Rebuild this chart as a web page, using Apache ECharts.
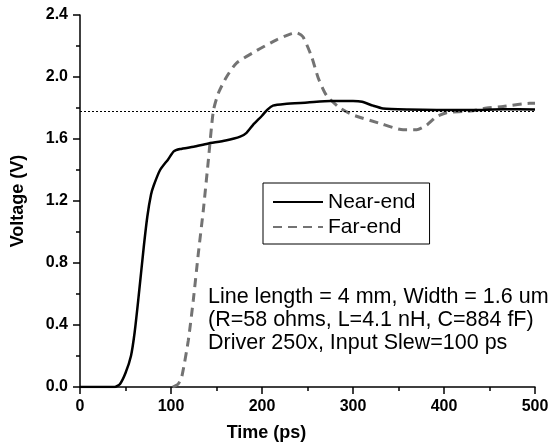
<!DOCTYPE html>
<html>
<head>
<meta charset="utf-8">
<script src="https://cdn.jsdelivr.net/npm/echarts@6/dist/echarts.min.js"></script>
<style>
  html, body { margin: 0; padding: 0; background: #fff; }
  #chart { width: 553px; height: 447px; }
</style>
</head>
<body>
<div id="chart"></div>
<script>
  // near-end waveform (time in ps, voltage in V)
  var nearTime = [0, 20, 38, 44, 50, 56, 60, 64, 70, 74, 78, 81, 88, 97, 103, 110, 125, 140, 160, 176, 183, 190, 200, 206, 212, 225, 250, 275, 300, 310, 322, 333, 360, 392, 430, 465, 500]
  var nearVolt = [0, 0, 0, 0.02, 0.09, 0.2, 0.35, 0.56, 0.9, 1.1, 1.24, 1.3, 1.4, 1.47, 1.52, 1.535, 1.55, 1.57, 1.59, 1.615, 1.64, 1.69, 1.75, 1.79, 1.815, 1.826, 1.835, 1.845, 1.845, 1.84, 1.815, 1.797, 1.79, 1.787, 1.787, 1.792, 1.79]
  // far-end waveform
  var farTime = [102, 108, 112, 119, 124.5, 130, 135.5, 141, 146.5, 152, 161, 172, 194, 216, 231, 238, 245, 254.6, 262, 271, 285.7, 300, 330, 355, 370, 381, 392, 403, 429, 447, 465, 494, 500]
  var farVolt = [0, 0.02, 0.07, 0.3, 0.56, 0.86, 1.14, 1.46, 1.78, 1.895, 2.0, 2.09, 2.17, 2.24, 2.277, 2.285, 2.26, 2.13, 1.99, 1.88, 1.8, 1.755, 1.7, 1.66, 1.66, 1.69, 1.745, 1.77, 1.78, 1.8, 1.81, 1.83, 1.83]
  var seriesNames = ['Near-end', 'Far-end']
  var supplyLevel = 1.78
  var noteLines = [
    'Line length = 4 mm, Width = 1.6 um',
    '(R=58 ohms, L=4.1 nH, C=884 fF)',
    'Driver 250x, Input Slew=100 ps'
  ]

  function pairs (xs, ys) {
    var out = []
    for (var i = 0; i < xs.length; i++) {
      out.push([xs[i], ys[i]])
    }
    return out
  }

  var chart = echarts.init(document.getElementById('chart'))
  var font = 'Liberation Sans, Arial, sans-serif'

  var option = {
    animation: false,
    grid: {
      left: 80,
      right: 18,
      top: 15,
      bottom: 60,
      outerBoundsMode: 'none'
    },
    legend: {
      orient: 'vertical',
      left: 263,
      top: 183,
      data: seriesNames,
      itemWidth: 50,
      itemHeight: 14,
      itemGap: 3,
      padding: [8, 14, 6, 9],
      borderColor: '#000',
      borderWidth: 1,
      itemStyle: { opacity: 0 },
      textStyle: {
        fontFamily: font,
        fontSize: 21,
        lineHeight: 22,
        color: '#000'
      }
    },
    xAxis: {
      type: 'value',
      min: 0,
      max: 500,
      interval: 100,
      name: 'Time (ps)',
      nameLocation: 'middle',
      nameGap: 37,
      nameTextStyle: {
        fontFamily: font,
        fontSize: 18,
        fontWeight: 'bold',
        color: '#000',
        padding: [0, 82, 0, 0]
      },
      axisLine: { lineStyle: { color: '#000', width: 1.5 } },
      axisTick: { length: 7, lineStyle: { color: '#000', width: 1.5 } },
      minorTick: { show: true, splitNumber: 2, length: 4, lineStyle: { color: '#000', width: 1.5 } },
      splitLine: { show: false },
      axisLabel: {
        margin: 12,
        fontFamily: font,
        fontSize: 16,
        fontWeight: 'bold',
        color: '#000'
      }
    },
    yAxis: {
      type: 'value',
      min: 0,
      max: 2.4,
      interval: 0.4,
      name: 'Voltage (V)',
      nameLocation: 'middle',
      nameGap: 53,
      nameTextStyle: {
        fontFamily: font,
        fontSize: 18,
        fontWeight: 'bold',
        color: '#000'
      },
      axisLine: { show: true, lineStyle: { color: '#000', width: 1.5 } },
      axisTick: { show: true, length: 7, lineStyle: { color: '#000', width: 1.5 } },
      minorTick: { show: true, splitNumber: 2, length: 4, lineStyle: { color: '#000', width: 1.5 } },
      splitLine: { show: false },
      axisLabel: {
        margin: 12,
        fontFamily: font,
        fontSize: 16,
        fontWeight: 'bold',
        color: '#000',
        formatter: function (v) { return v.toFixed(1) }
      }
    },
    series: [
      {
        name: seriesNames[0],
        type: 'line',
        data: pairs(nearTime, nearVolt),
        symbol: 'none',
        smooth: 0.2,
        z: 3,
        color: '#000',
        lineStyle: { color: '#000', width: 2.5 },
        markLine: {
          silent: true,
          symbol: 'none',
          label: { show: false },
          lineStyle: { color: '#000', width: 1.2, type: [2, 2] },
          data: [{ yAxis: supplyLevel }]
        }
      },
      {
        name: seriesNames[1],
        type: 'line',
        data: pairs(farTime, farVolt),
        symbol: 'none',
        smooth: 0.2,
        z: 2,
        color: '#737373',
        lineStyle: { color: '#737373', width: 3, type: [9, 6] }
      }
    ],
    graphic: [
      {
        type: 'text',
        left: 208,
        top: 286,
        style: {
          text: noteLines.join('\n'),
          fontFamily: font,
          fontSize: 21.5,
          lineHeight: 23,
          fill: '#000'
        }
      }
    ]
  }
  chart.setOption(option)
</script>
</body>
</html>
